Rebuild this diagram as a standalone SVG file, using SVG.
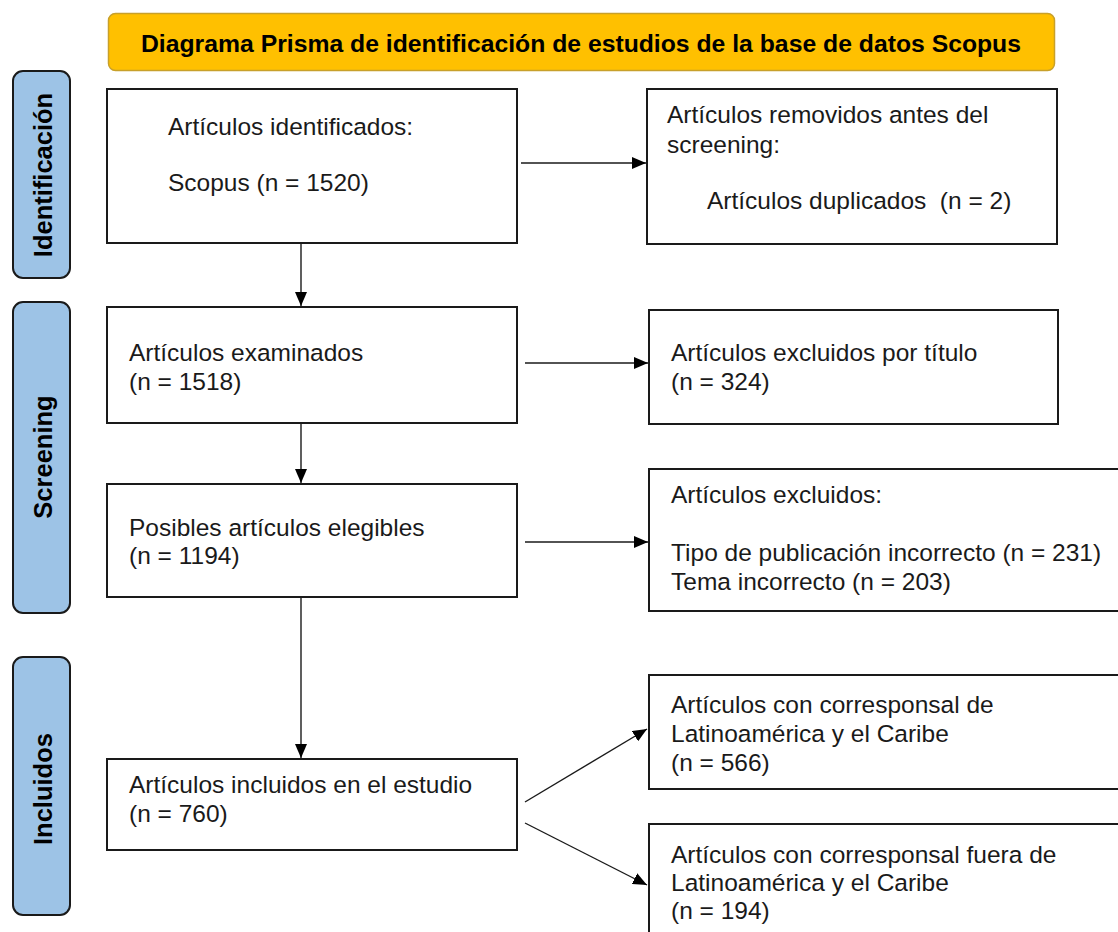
<svg xmlns="http://www.w3.org/2000/svg" width="1118" height="932" viewBox="0 0 1118 932">
<defs>
<marker id="ah" viewBox="0 0 14 12" refX="14" refY="6" markerWidth="14" markerHeight="12" markerUnits="userSpaceOnUse" orient="auto">
<path d="M0,0 L14,6 L0,12 Z" fill="#000"/>
</marker>
<style>
.box{fill:#fff;stroke:#1a1a1a;stroke-width:2}
.side{fill:#9DC3E6;stroke:#1a1a1a;stroke-width:2}
.t{font-family:"Liberation Sans",Arial,sans-serif;font-size:24.5px;fill:#1a1a1a}
.st{font-family:"Liberation Sans",Arial,sans-serif;font-size:25.5px;font-weight:bold;fill:#000;text-anchor:middle}
.c{stroke:#1a1a1a;stroke-width:1.4;fill:none;marker-end:url(#ah)}
</style>
</defs>
<rect width="1118" height="932" fill="#fff"/>

<g id="title">
<rect x="108.5" y="13.5" width="946" height="57" rx="7" fill="#FFC000" stroke="#C8A02A" stroke-width="1.5"/>
<text x="581" y="52" font-family="'Liberation Sans',Arial,sans-serif" font-size="23.5" font-weight="bold" fill="#000" text-anchor="middle" textLength="880" lengthAdjust="spacingAndGlyphs">Diagrama Prisma de identificación de estudios de la base de datos Scopus</text>
</g>

<g id="lane-identificacion">
<rect class="side" x="13" y="71" width="57" height="207" rx="10"/>
<text class="st" transform="translate(52,175) rotate(-90)">Identificación</text>
</g>
<g id="lane-screening">
<rect class="side" x="13" y="302" width="57" height="311" rx="10"/>
<text class="st" transform="translate(52,457) rotate(-90)">Screening</text>
</g>
<g id="lane-incluidos">
<rect class="side" x="13" y="657" width="57" height="258" rx="10"/>
<text class="st" transform="translate(52,789) rotate(-90)">Incluidos</text>
</g>

<g id="n-identificados">
<rect class="box" x="107" y="89" width="410" height="154"/>
<text class="t" x="168" y="135">Artículos identificados:</text>
<text class="t" x="168" y="191">Scopus (n = 1520)</text>
</g>
<g id="n-removidos">
<rect class="box" x="647" y="89" width="410" height="155"/>
<text class="t" x="667" y="123">Artículos removidos antes del</text>
<text class="t" x="667" y="153">screening:</text>
<text class="t" x="707" y="209" xml:space="preserve">Artículos duplicados  (n = 2)</text>
</g>
<g id="n-examinados">
<rect class="box" x="107" y="307" width="410" height="116"/>
<text class="t" x="129" y="361">Artículos examinados</text>
<text class="t" x="129" y="390">(n = 1518)</text>
</g>
<g id="n-excl-titulo">
<rect class="box" x="649" y="310" width="409" height="114"/>
<text class="t" x="671" y="361">Artículos excluidos por título</text>
<text class="t" x="671" y="390">(n = 324)</text>
</g>
<g id="n-elegibles">
<rect class="box" x="107" y="484" width="410" height="113"/>
<text class="t" x="129" y="536">Posibles artículos elegibles</text>
<text class="t" x="129" y="564">(n = 1194)</text>
</g>
<g id="n-excluidos">
<rect class="box" x="649" y="469" width="480" height="142"/>
<text class="t" x="671" y="503">Artículos excluidos:</text>
<text class="t" x="671" y="561">Tipo de publicación incorrecto (n = 231)</text>
<text class="t" x="671" y="590">Tema incorrecto (n = 203)</text>
</g>
<g id="n-incluidos">
<rect class="box" x="107" y="759" width="410" height="91"/>
<text class="t" x="129" y="793">Artículos incluidos en el estudio</text>
<text class="t" x="129" y="822">(n = 760)</text>
</g>
<g id="n-latam">
<rect class="box" x="649" y="675" width="480" height="114"/>
<text class="t" x="671" y="713">Artículos con corresponsal de</text>
<text class="t" x="671" y="742">Latinoamérica y el Caribe</text>
<text class="t" x="671" y="771">(n = 566)</text>
</g>
<g id="n-fuera">
<rect class="box" x="649" y="824" width="480" height="130"/>
<text class="t" x="671" y="863">Artículos con corresponsal fuera de</text>
<text class="t" x="671" y="891">Latinoamérica y el Caribe</text>
<text class="t" x="671" y="919">(n = 194)</text>
</g>

<g id="connectors">
<line class="c" x1="521" y1="163" x2="646" y2="163"/>
<line class="c" x1="301" y1="243" x2="301" y2="306"/>
<line class="c" x1="525" y1="363" x2="648" y2="363"/>
<line class="c" x1="301" y1="424" x2="301" y2="483"/>
<line class="c" x1="525" y1="542" x2="648" y2="542"/>
<line class="c" x1="301" y1="598" x2="301" y2="758"/>
<line class="c" x1="525" y1="802" x2="647" y2="729"/>
<line class="c" x1="525" y1="823" x2="647" y2="885"/>
</g>
</svg>
